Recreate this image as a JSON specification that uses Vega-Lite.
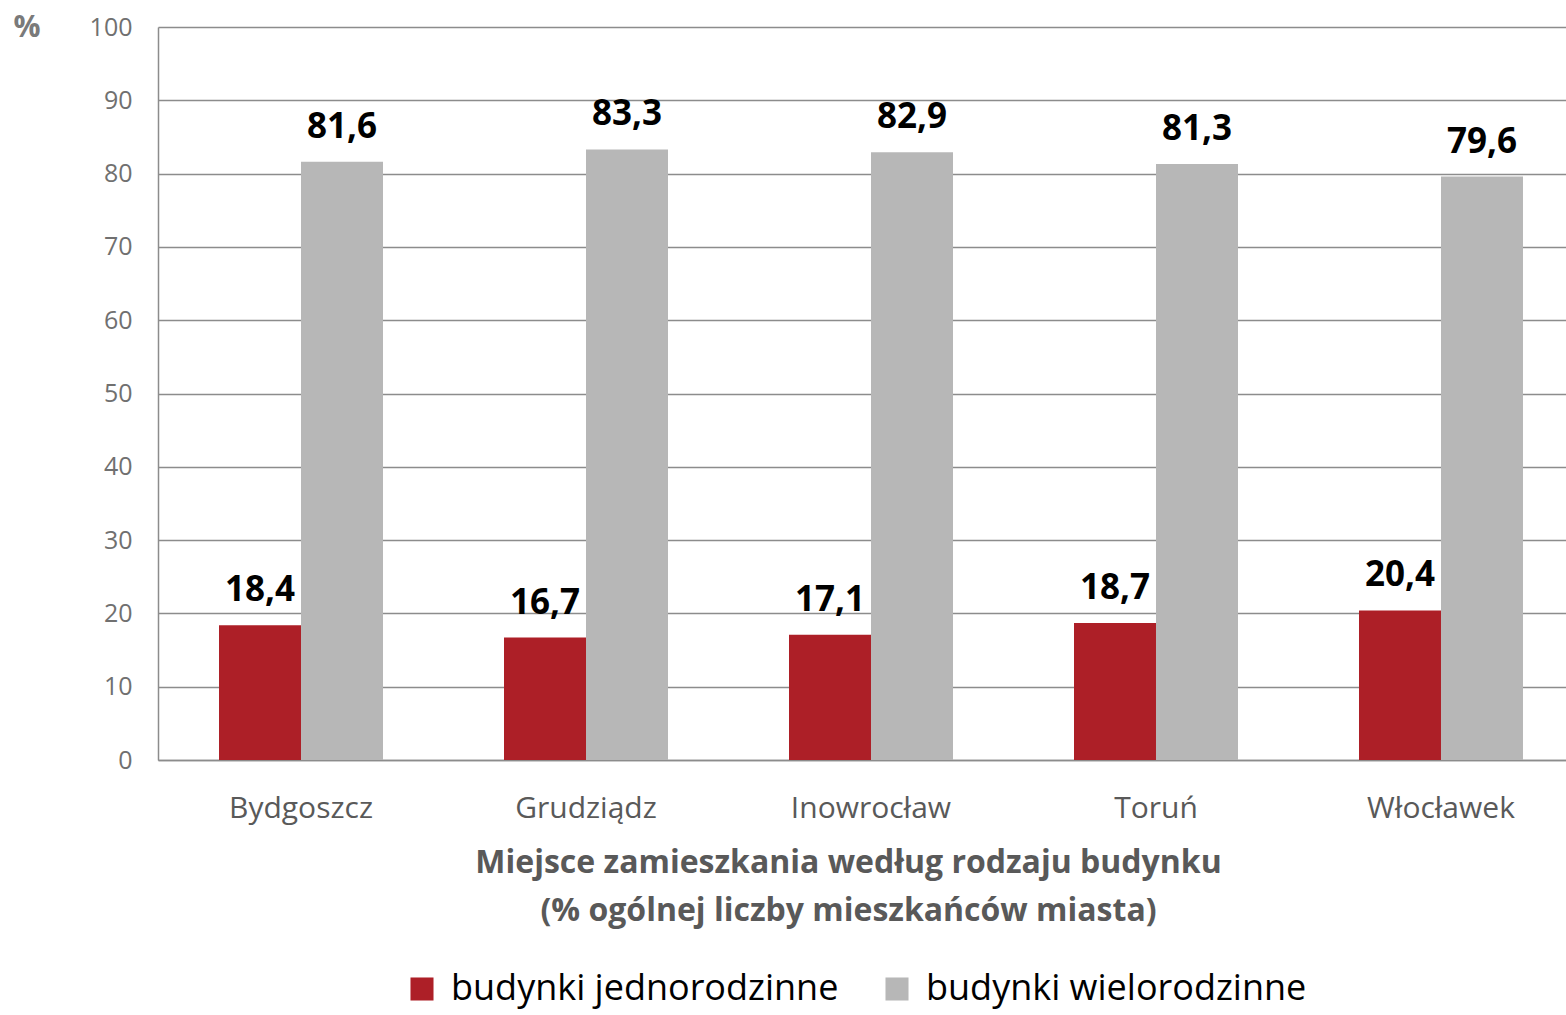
{
  "$schema": "https://vega.github.io/schema/vega-lite/v6.json",
  "width": 1408,
  "height": 733,
  "autosize": {"type": "none"},
  "padding": {"left": 158, "top": 27, "right": 0, "bottom": 255},
  "background": "white",
  "config": {
    "font": "Open Sans",
    "view": {"stroke": null}
  },
  "data": {
    "values": [
      {"miasto": "Bydgoszcz", "typ": "budynki jednorodzinne", "wartosc": 18.4, "etykieta": "18,4"},
      {"miasto": "Bydgoszcz", "typ": "budynki wielorodzinne", "wartosc": 81.6, "etykieta": "81,6"},
      {"miasto": "Grudziądz", "typ": "budynki jednorodzinne", "wartosc": 16.7, "etykieta": "16,7"},
      {"miasto": "Grudziądz", "typ": "budynki wielorodzinne", "wartosc": 83.3, "etykieta": "83,3"},
      {"miasto": "Inowrocław", "typ": "budynki jednorodzinne", "wartosc": 17.1, "etykieta": "17,1"},
      {"miasto": "Inowrocław", "typ": "budynki wielorodzinne", "wartosc": 82.9, "etykieta": "82,9"},
      {"miasto": "Toruń", "typ": "budynki jednorodzinne", "wartosc": 18.7, "etykieta": "18,7"},
      {"miasto": "Toruń", "typ": "budynki wielorodzinne", "wartosc": 81.3, "etykieta": "81,3"},
      {"miasto": "Włocławek", "typ": "budynki jednorodzinne", "wartosc": 20.4, "etykieta": "20,4"},
      {"miasto": "Włocławek", "typ": "budynki wielorodzinne", "wartosc": 79.6, "etykieta": "79,6"}
    ]
  },
  "encoding": {
    "x": {
      "field": "miasto",
      "type": "nominal",
      "sort": null,
      "scale": {"paddingInner": 0.4246, "paddingOuter": 0.1825, "align": 0.5865},
      "axis": {
        "title": ["Miejsce zamieszkania według rodzaju budynku", "(% ogólnej liczby mieszkańców miasta)"],
        "titleFontSize": 32,
        "titleFontWeight": "bold",
        "titleColor": "#595959",
        "titleLineHeight": 48,
        "titlePadding": 24,
        "titleX": 690,
        "labelAngle": 0,
        "labelFontSize": 30,
        "labelColor": "#595959",
        "labelPadding": 33,
        "ticks": false,
        "domainColor": "#8c8c8c",
        "domainWidth": 1.5
      }
    },
    "xOffset": {"field": "typ", "type": "nominal"},
    "y": {
      "field": "wartosc",
      "type": "quantitative",
      "scale": {"domain": [0, 100]},
      "axis": {
        "values": [0, 10, 20, 30, 40, 50, 60, 70, 80, 90, 100],
        "title": "%",
        "titleAngle": 0,
        "titleAlign": "left",
        "titleBaseline": "top",
        "titleX": -145,
        "titleY": -15,
        "titleFontSize": 30,
        "titleFontWeight": "bold",
        "titleColor": "#7a7a7a",
        "labelFontSize": 25,
        "labelColor": "#707070",
        "labelPadding": 26,
        "ticks": false,
        "grid": true,
        "gridColor": "#8c8c8c",
        "gridWidth": 1.3,
        "domainColor": "#8c8c8c",
        "domainWidth": 1.5
      }
    }
  },
  "layer": [
    {
      "mark": {"type": "bar"},
      "encoding": {
        "color": {
          "field": "typ",
          "type": "nominal",
          "scale": {"domain": ["budynki jednorodzinne", "budynki wielorodzinne"], "range": ["#ad1f27", "#b7b7b7"]},
          "legend": {
            "title": null,
            "orient": "none",
            "direction": "horizontal",
            "legendX": 246,
            "legendY": 944,
            "symbolType": "square",
            "symbolSize": 530,
            "symbolStrokeWidth": 0,
            "labelFontSize": 36,
            "labelColor": "#000000",
            "labelLimit": 600,
            "columnPadding": 40,
            "labelOffset": 11
          }
        }
      }
    },
    {
      "mark": {"type": "text", "fontSize": 35, "fontWeight": "bold", "color": "#000000", "baseline": "alphabetic", "dy": -24},
      "encoding": {
        "text": {"field": "etykieta", "type": "nominal"}
      }
    }
  ]
}
